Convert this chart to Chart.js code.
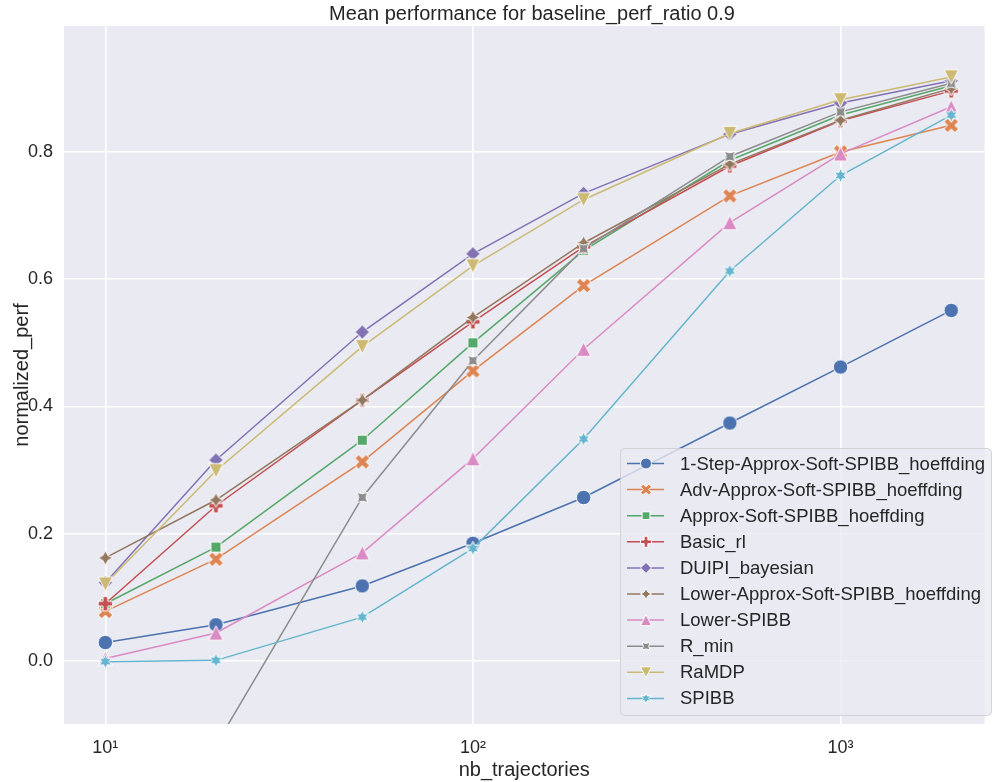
<!DOCTYPE html>
<html>
<head>
<meta charset="utf-8">
<script src="https://cdn.jsdelivr.net/npm/chart.js@4.4.0/dist/chart.umd.min.js"></script>
<style>
  body { margin: 0; background: #fff; overflow: hidden; }
  #wrap { width: 993px; height: 782px; position: relative; }
</style>
</head>
<body>
<div id="wrap"><canvas id="myChart"></canvas></div>
<script>
// x values
const nbTrajectories = [10, 20, 50, 100, 200, 500, 1000, 2000]
const xTicks = [10, 100, 1000]
const yTicks = [0.0, 0.2, 0.4, 0.6, 0.8]

// series values
const oneStepSoft = [0.029, 0.057, 0.118, 0.185, 0.257, 0.374, 0.462, 0.551]
const advApproxSoft = [0.078, 0.160, 0.313, 0.456, 0.590, 0.731, 0.800, 0.842]
const approxSoft = [0.090, 0.179, 0.347, 0.500, 0.645, 0.787, 0.858, 0.904]
const basicRl = [0.090, 0.244, 0.410, 0.533, 0.651, 0.778, 0.849, 0.896]
const duipiBayesian = [0.123, 0.316, 0.517, 0.640, 0.735, 0.828, 0.877, 0.912]
const lowerApproxSoft = [0.162, 0.253, 0.410, 0.540, 0.657, 0.781, 0.850, 0.900]
const lowerSpibb = [0.004, 0.044, 0.170, 0.318, 0.490, 0.689, 0.797, 0.871]
const rMin = [-0.45, -0.132, 0.257, 0.472, 0.648, 0.793, 0.863, 0.908]
const raMdp = [0.121, 0.299, 0.494, 0.621, 0.725, 0.829, 0.882, 0.918]
const spibb = [-0.001, 0.001, 0.069, 0.177, 0.349, 0.613, 0.763, 0.858]

const seriesNames = ['1-Step-Approx-Soft-SPIBB_hoeffding', 'Adv-Approx-Soft-SPIBB_hoeffding',
    'Approx-Soft-SPIBB_hoeffding', 'Basic_rl', 'DUIPI_bayesian', 'Lower-Approx-Soft-SPIBB_hoeffding',
    'Lower-SPIBB', 'R_min', 'RaMDP', 'SPIBB']
const seriesValues = [oneStepSoft, advApproxSoft, approxSoft, basicRl, duipiBayesian,
    lowerApproxSoft, lowerSpibb, rMin, raMdp, spibb]
const seriesColors = ['#4C72B0', '#DD8452', '#55A868', '#C44E52', '#8172B3',
    '#937860', '#DA8BC3', '#8C8C8C', '#CCB974', '#64B5CD']
const seriesMarkers = ['o', 'X', 's', 'P', 'D', 'star4', '^', 'star4r', 'v', 'star6']

const textColor = '#262626'
const fontName = "'Liberation Sans', Arial, sans-serif"

// marker shapes, unit size, y up like matplotlib
function regular(n, r, rot) {
    const pts = []
    for (let k = 0; k < n; k++) {
        const a = Math.PI / 2 + 2 * Math.PI * k / n + rot
        pts.push([r * Math.cos(a), r * Math.sin(a)])
    }
    return pts
}
function star(n, rOut, rIn, rot) {
    const pts = []
    for (let k = 0; k < 2 * n; k++) {
        const a = Math.PI / 2 + Math.PI * k / n + rot
        const r = k % 2 === 0 ? rOut : rIn
        pts.push([r * Math.cos(a), r * Math.sin(a)])
    }
    return pts
}
function shapePoints(shape) {
    if (shape === 'X') {
        return [[0.25, 0], [0.5, 0.25], [0.75, 0], [1, 0.25], [0.75, 0.5], [1, 0.75], [0.75, 1],
            [0.5, 0.75], [0.25, 1], [0, 0.75], [0.25, 0.5], [0, 0.25]].map(p => [p[0] - 0.5, p[1] - 0.5])
    }
    if (shape === 'P') {
        return [[-1, -3], [1, -3], [1, -1], [3, -1], [3, 1], [1, 1], [1, 3], [-1, 3], [-1, 1],
            [-3, 1], [-3, -1], [-1, -1]].map(p => [p[0] / 6, p[1] / 6])
    }
    if (shape === 's') return regular(4, 0.5, Math.PI / 4)
    if (shape === 'D') return regular(4, 0.5, 0)
    if (shape === 'star4') return star(4, 0.5, 0.25, 0)
    if (shape === 'star4r') return star(4, 0.5, 0.25, Math.PI / 4)
    if (shape === 'star6') return star(6, 0.5, 0.25, 0)
    if (shape === '^') return [[0, 0.5], [-0.5, -0.5], [0.5, -0.5]]
    if (shape === 'v') return [[0, -0.5], [-0.5, 0.5], [0.5, 0.5]]
    return null
}
function drawMarker(ctx, shape, color, ms, cx, cy) {
    ctx.beginPath()
    if (shape === 'o') {
        ctx.arc(cx, cy, ms / 2, 0, Math.PI * 2)
    } else {
        const pts = shapePoints(shape)
        pts.forEach((p, i) => {
            const px = cx + p[0] * ms
            const py = cy - p[1] * ms
            if (i === 0) ctx.moveTo(px, py)
            else ctx.lineTo(px, py)
        })
        ctx.closePath()
    }
    ctx.fillStyle = color
    ctx.fill()
    ctx.lineWidth = 1
    ctx.strokeStyle = '#ffffff'
    ctx.lineJoin = 'miter'
    ctx.stroke()
}
function markerCanvas(shape, color, ms) {
    const c = document.createElement('canvas')
    const size = Math.ceil(ms + 4)
    c.width = size
    c.height = size
    drawMarker(c.getContext('2d'), shape, color, ms, size / 2, size / 2)
    return c
}

// chart area background
const plotBackground = {
    id: 'plotBackground',
    beforeDraw(chart) {
        const { ctx, chartArea } = chart
        ctx.save()
        ctx.fillStyle = '#EAEAF2'
        ctx.fillRect(chartArea.left, chartArea.top, chartArea.right - chartArea.left, chartArea.bottom - chartArea.top)
        ctx.restore()
    }
}

// title centered over the axes + legend box in lower right
const titleAndLegend = {
    id: 'titleAndLegend',
    afterDraw(chart) {
        const { ctx } = chart
        ctx.save()
        ctx.fillStyle = textColor
        ctx.font = '20px ' + fontName
        ctx.textAlign = 'center'
        ctx.textBaseline = 'middle'
        ctx.fillText('Mean performance for baseline_perf_ratio 0.9', 532, 14)

        // legend frame
        const bx = 620.5, by = 448.5, bw = 371, bh = 267, r = 4
        ctx.beginPath()
        ctx.moveTo(bx + r, by)
        ctx.arcTo(bx + bw, by, bx + bw, by + bh, r)
        ctx.arcTo(bx + bw, by + bh, bx, by + bh, r)
        ctx.arcTo(bx, by + bh, bx, by, r)
        ctx.arcTo(bx, by, bx + bw, by, r)
        ctx.closePath()
        ctx.fillStyle = 'rgba(234,234,242,0.8)'
        ctx.fill()
        ctx.strokeStyle = 'rgba(204,204,204,0.8)'
        ctx.lineWidth = 1
        ctx.stroke()

        ctx.font = '18.5px ' + fontName
        ctx.textAlign = 'left'
        seriesNames.forEach((name, i) => {
            const y = 463.5 + i * 26.1
            ctx.beginPath()
            ctx.moveTo(627, y)
            ctx.lineTo(664, y)
            ctx.strokeStyle = seriesColors[i]
            ctx.lineWidth = 1.5
            ctx.stroke()
            drawMarker(ctx, seriesMarkers[i], seriesColors[i], 11, 646, y)
            ctx.fillStyle = textColor
            ctx.fillText(name, 680, y + 1)
        })
        ctx.restore()
    }
}

const supers = { 1: '\u00B9', 2: '\u00B2', 3: '\u00B3' }

function renderChart() {
    const grafica = document.querySelector('#myChart')
    const datasets = seriesNames.map((name, i) => ({
        label: name,
        data: nbTrajectories.map((x, j) => ({ x: x, y: seriesValues[i][j] })),
        borderColor: seriesColors[i],
        backgroundColor: seriesColors[i],
        borderWidth: 1.5,
        pointStyle: markerCanvas(seriesMarkers[i], seriesColors[i], 14.5),
        pointRadius: 7,
        pointHoverRadius: 7,
        order: 10 - i
    }))

    const config = {
        type: 'line',
        data: { datasets: datasets },
        options: {
            responsive: true,
            maintainAspectRatio: false,
            animation: false,
            layout: { padding: { top: 26, left: 0, right: 0, bottom: 0 } },
            plugins: {
                legend: { display: false },
                title: { display: false },
                tooltip: { enabled: false }
            },
            scales: {
                x: {
                    type: 'logarithmic',
                    min: 7.72,
                    max: 2464,
                    afterBuildTicks: (scale) => {
                        scale.ticks = xTicks.map(v => ({ value: v, major: true }))
                    },
                    afterFit: (scale) => { scale.height = 58 },
                    grid: { color: '#ffffff', lineWidth: 1.6, drawTicks: false },
                    border: { display: false },
                    ticks: {
                        color: textColor,
                        font: { family: fontName, size: 18 },
                        padding: 13,
                        maxRotation: 0,
                        callback: (v) => '10' + supers[Math.round(Math.log10(v))]
                    },
                    title: {
                        display: true,
                        text: 'nb_trajectories',
                        color: textColor,
                        font: { family: fontName, size: 20 },
                        padding: { top: 0, bottom: 0 }
                    }
                },
                y: {
                    type: 'linear',
                    min: -0.099,
                    max: 0.998,
                    afterBuildTicks: (scale) => {
                        scale.ticks = yTicks.map(v => ({ value: v }))
                    },
                    afterFit: (scale) => { scale.width = 64 },
                    grid: { color: '#ffffff', lineWidth: 1.6, drawTicks: false },
                    border: { display: false },
                    ticks: {
                        color: textColor,
                        font: { family: fontName, size: 18 },
                        padding: 11,
                        callback: (v) => v.toFixed(1)
                    },
                    title: {
                        display: true,
                        text: 'normalized_perf',
                        color: textColor,
                        font: { family: fontName, size: 20 },
                        padding: { top: 10, bottom: 0 }
                    }
                }
            }
        },
        plugins: [plotBackground, titleAndLegend]
    }
    const myChart = new Chart(grafica, config)
}

document.addEventListener('DOMContentLoaded', () => {
    renderChart()
})
</script>
</body>
</html>
